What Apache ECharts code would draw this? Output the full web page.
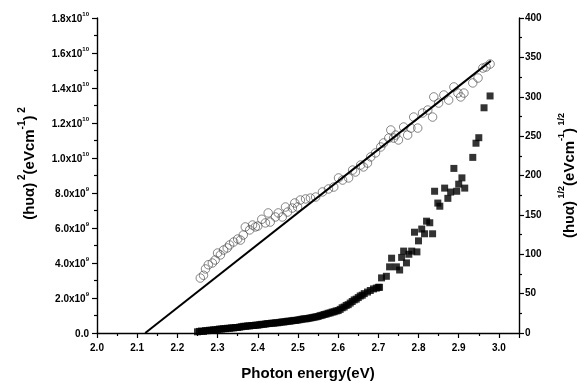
<!DOCTYPE html>
<html>
<head>
<meta charset="utf-8">
<script src="https://cdn.jsdelivr.net/npm/echarts@6/dist/echarts.min.js"></script>
<style>
  html, body { margin: 0; padding: 0; background: #fff; }
  #chart { width: 579px; height: 383px; }
</style>
</head>
<body>
<div id="chart"></div>
<script>
// open circles, left axis: (h nu alpha)^2 in units of 1e9
var circleX = [2.257, 2.265, 2.270, 2.277, 2.287, 2.294, 2.300, 2.307, 2.315, 2.324, 2.330, 2.340, 2.350, 2.357, 2.364, 2.369,
  2.380, 2.387, 2.394, 2.400, 2.410, 2.419, 2.426, 2.431, 2.444, 2.451, 2.461, 2.469, 2.474, 2.486, 2.492, 2.499,
  2.506, 2.519, 2.531, 2.544, 2.561, 2.576, 2.589, 2.601, 2.611, 2.626, 2.636, 2.643, 2.656, 2.663, 2.673, 2.681,
  2.693, 2.706, 2.713, 2.726, 2.731, 2.738, 2.743, 2.750, 2.763, 2.773, 2.781, 2.788, 2.798, 2.810, 2.823, 2.835,
  2.838, 2.850, 2.863, 2.875, 2.888, 2.898, 2.905, 2.913, 2.935, 2.948, 2.960, 2.968, 2.978];
var circleY = [3.14, 3.30, 3.66, 3.90, 4.00, 4.17, 4.57, 4.46, 4.74, 4.86, 5.03, 5.20, 5.37, 5.31, 5.60, 6.06,
  5.89, 6.17, 6.06, 6.11, 6.50, 6.29, 6.86, 6.34, 6.63, 6.86, 6.63, 7.20, 6.91, 7.14, 7.43, 7.20,
  7.60, 7.66, 7.71, 7.77, 8.06, 8.23, 8.34, 8.86, 8.74, 8.86, 9.31, 9.20, 9.60, 9.49, 9.71, 10.06,
  10.29, 10.63, 10.86, 11.14, 11.60, 11.14, 11.31, 11.03, 11.77, 11.31, 11.71, 12.34, 11.71, 12.57, 12.74, 12.34,
  13.49, 13.14, 13.60, 13.31, 14.06, 13.71, 13.49, 13.71, 14.29, 14.57, 15.14, 15.20, 15.37];

// filled squares, right axis: (h nu alpha)^(1/2)
var squareX = [2.250, 2.255, 2.260, 2.265, 2.270, 2.275, 2.280, 2.285, 2.290, 2.295, 2.300, 2.305, 2.310, 2.315, 2.320, 2.325,
  2.330, 2.335, 2.340, 2.345, 2.350, 2.355, 2.360, 2.365, 2.370, 2.375, 2.380, 2.385, 2.390, 2.395, 2.400, 2.405,
  2.410, 2.415, 2.420, 2.425, 2.430, 2.435, 2.440, 2.445, 2.450, 2.455, 2.460, 2.465, 2.470, 2.475, 2.480, 2.485,
  2.490, 2.495, 2.500, 2.505, 2.510, 2.515, 2.520, 2.525, 2.530, 2.535, 2.540, 2.545, 2.550, 2.555, 2.560, 2.565,
  2.570, 2.575, 2.580, 2.585, 2.590, 2.595, 2.600, 2.605, 2.610, 2.615, 2.620, 2.625, 2.630, 2.635, 2.640, 2.645,
  2.650, 2.655, 2.660, 2.665, 2.673, 2.680, 2.688, 2.695, 2.700, 2.703, 2.708, 2.720, 2.728, 2.733, 2.745, 2.753,
  2.758, 2.763, 2.770, 2.776, 2.783, 2.790, 2.796, 2.800, 2.808, 2.815, 2.820, 2.828, 2.835, 2.840, 2.848, 2.853,
  2.865, 2.873, 2.880, 2.888, 2.895, 2.900, 2.908, 2.915, 2.935, 2.943, 2.950, 2.963, 2.978];
var squareY = [1.5, 2, 2.5, 2, 3, 3, 3.5, 3.5, 4, 4, 4.5, 5, 5, 5.5, 5.5, 6,
  6, 6.5, 6.5, 7, 7, 7.5, 8, 8.5, 8.5, 9, 9, 9.5, 9.5, 10, 10, 10.5,
  11, 11, 11.5, 12, 12, 12.5, 12.5, 13, 13, 13.5, 14, 14, 14.5, 15, 15, 15.5,
  16, 16, 16.5, 17, 17.5, 18, 18, 18.5, 19, 19.5, 20, 20.5, 21, 22, 22.5, 23.5,
  24, 25, 25.5, 26.5, 27, 28, 28.5, 30, 32, 33, 35, 36, 38, 40, 42, 43,
  45, 47, 48, 50, 52, 54, 56, 57, 58, 58, 70, 72, 84, 95, 84, 80,
  96, 104, 89, 100, 104, 128, 103, 117, 132, 126, 142, 140, 126, 180, 165, 161,
  184, 171, 179, 209, 180, 189, 197, 184, 223, 241, 248, 286, 301];

// linear fit of the circles, extrapolated to the x axis
var fitX = [2.12, 2.98];
var fitY = [0, 15.55];

var xTicks = ['2.0', '2.1', '2.2', '2.3', '2.4', '2.5', '2.6', '2.7', '2.8', '2.9', '3.0'];

function zip(xs, ys, k) {
  return xs.map(function (x, i) { return [x, ys[i] * k]; });
}

var FONT = '"Liberation Sans", Arial, sans-serif';

function leftLabel(v) {
  if (v === 0) return '{b|0.0}';
  var e = Math.floor(Math.log10(v) + 1e-9);
  var m = (v / Math.pow(10, e)).toFixed(1);
  return '{b|' + m + 'x10}{s|' + e + '}';
}

var nameRich = function (sup) {
  return {
    a: { fontFamily: FONT, fontWeight: 'bold', fontSize: 15, color: '#000', lineHeight: 20, verticalAlign: 'bottom' },
    s: { fontFamily: FONT, fontWeight: 'bold', fontSize: sup, color: '#000', lineHeight: 20, verticalAlign: 'top' }
  };
};

var chart = echarts.init(document.getElementById('chart'));
chart.setOption({
  animation: false,
  backgroundColor: '#fff',
  grid: { left: 97, right: 60, top: 18, bottom: 50, outerBoundsMode: 'none', containLabel: false },
  xAxis: {
    type: 'value', min: 2.0, max: 3.05, interval: 0.1,
    name: 'Photon energy(eV)', nameLocation: 'middle', nameGap: 33,
    nameTextStyle: { fontFamily: FONT, fontWeight: 'bold', fontSize: 15, color: '#000' },
    axisLine: { lineStyle: { color: '#000', width: 1.4 } },
    axisTick: { inside: false, length: 5, lineStyle: { color: '#000', width: 1.2 } },
    minorTick: { show: true, splitNumber: 2, length: 3, lineStyle: { color: '#000', width: 1.2 } },
    splitLine: { show: false },
    axisLabel: {
      fontFamily: FONT, fontWeight: 'bold', fontSize: 10, color: '#000', margin: 10,
      formatter: function (v) {
        var s = v.toFixed(1);
        return xTicks.indexOf(s) >= 0 && Math.abs(v - parseFloat(s)) < 1e-6 ? s : '';
      }
    }
  },
  yAxis: [{
    type: 'value', min: 0, max: 1.8e10, interval: 2e9, position: 'left',
    name: '{a|(hυα)}{s| 2}{a|(eVcm}{s|-1}{a|)}{s| 2}',
    nameLocation: 'middle', nameRotate: 90, nameGap: 60,
    nameTextStyle: { rich: nameRich(10), padding: [0, 0, 0, 24] },
    axisLine: { show: true, lineStyle: { color: '#000', width: 1.4 } },
    axisTick: { show: true, inside: false, length: 5, lineStyle: { color: '#000', width: 1.2 } },
    minorTick: { show: true, splitNumber: 2, length: 3, lineStyle: { color: '#000', width: 1.2 } },
    splitLine: { show: false },
    axisLabel: {
      margin: 8, formatter: leftLabel,
      rich: {
        b: { fontFamily: FONT, fontWeight: 'bold', fontSize: 10, color: '#000', lineHeight: 13, verticalAlign: 'bottom' },
        s: { fontFamily: FONT, fontWeight: 'bold', fontSize: 6, color: '#000', lineHeight: 13, verticalAlign: 'top' }
      }
    }
  }, {
    type: 'value', min: 0, max: 400, interval: 50, position: 'right',
    name: '{a|(hυα)}{s| 1/2}{a|(eVcm}{s|-1}{a|)}{s| 1/2}',
    nameLocation: 'middle', nameRotate: 90, nameGap: 38,
    nameTextStyle: { rich: nameRich(9) },
    axisLine: { show: true, lineStyle: { color: '#000', width: 1.4 } },
    axisTick: { show: true, inside: false, length: 5, lineStyle: { color: '#000', width: 1.2 } },
    minorTick: { show: true, splitNumber: 2, length: 3, lineStyle: { color: '#000', width: 1.2 } },
    splitLine: { show: false },
    axisLabel: { fontFamily: FONT, fontWeight: 'bold', fontSize: 10, color: '#000', margin: 6 }
  }],
  series: [{
    type: 'scatter', yAxisIndex: 0,
    data: zip(circleX, circleY, 1e9),
    symbol: 'circle', symbolSize: 8.5,
    itemStyle: { color: 'rgba(255,255,255,0)', borderColor: '#444', borderWidth: 0.8 }
  }, {
    type: 'line', yAxisIndex: 0,
    data: zip(fitX, fitY, 1e9),
    showSymbol: false, symbol: 'none',
    lineStyle: { color: '#000', width: 2 }
  }, {
    type: 'scatter', yAxisIndex: 1,
    data: zip(squareX, squareY, 1),
    symbol: 'rect', symbolSize: 7,
    itemStyle: { color: '#000' }
  }]
});
</script>
</body>
</html>
